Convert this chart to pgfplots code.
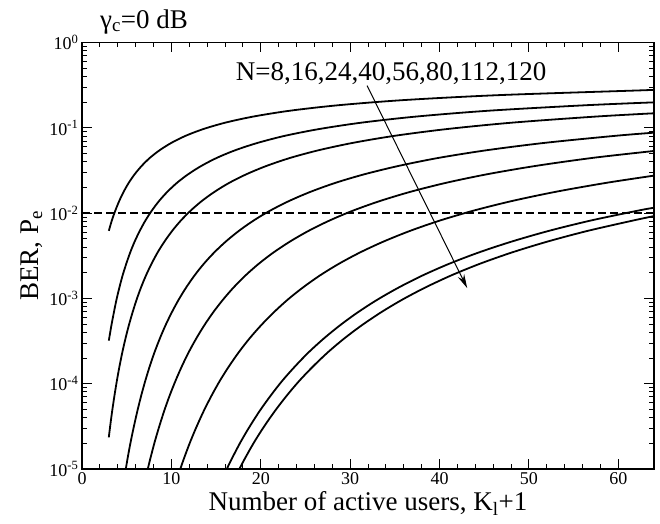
\documentclass[border=0pt]{standalone}
\usepackage{fontspec}
\setmainfont{Liberation Serif}
\usepackage{pgfplots}
\pgfplotsset{compat=1.18}
\usetikzlibrary{arrows.meta}

\begin{document}
\begin{tikzpicture}
\begin{axis}[
  name=ax,
  scale only axis,
  width=572pt, height=426.5pt,
  xmin=0, xmax=64,
  ymode=log, ymin=1e-5, ymax=1,
  clip mode=individual,
  xtick={0,10,20,30,40,50,60},
  xticklabels={0,10,20,30,40,50,60},
  minor x tick num=4,
  ytick={1e-5,1e-4,1e-3,1e-2,1e-1,1},
  yticklabels={10\textsuperscript{-5},10\textsuperscript{-4},10\textsuperscript{-3},10\textsuperscript{-2},10\textsuperscript{-1},10\textsuperscript{0}},
  minor ytick={2e-5,3e-5,4e-5,5e-5,6e-5,7e-5,8e-5,9e-5,
               2e-4,3e-4,4e-4,5e-4,6e-4,7e-4,8e-4,9e-4,
               2e-3,3e-3,4e-3,5e-3,6e-3,7e-3,8e-3,9e-3,
               2e-2,3e-2,4e-2,5e-2,6e-2,7e-2,8e-2,9e-2,
               0.2,0.3,0.4,0.5,0.6,0.7,0.8,0.9},
  tick align=inside,
  major tick length=10pt, minor tick length=5pt,
  every tick/.style={black, line width=1pt},
  axis line style={line width=1.3pt},
  tick label style={font=\fontsize{18}{20}\selectfont},
  xlabel={Number of active users, K\textsubscript{l}+1},
  ylabel={BER, P\textsubscript{e}},
  label style={font=\fontsize{27}{30}\selectfont},
  ber/.style={black, solid, mark=none, line width=1.8pt, smooth},
]
% N = 8
\addplot[ber] coordinates {(3,6.2e-3) (3.34,8.2e-3) (3.73,1.072e-2) (4.17,1.39e-2) (4.67,1.786e-2) (5.24,2.275e-2) (5.91,2.87e-2) (6.69,3.59e-2) (7.61,4.46e-2) (8.71,5.48e-2) (10.02,6.68e-2) (11.62,8.08e-2) (13.59,9.68e-2) (16.06,0.1151) (19.2,0.1357) (23.28,0.1587) (28.72,0.1841) (36.16,0.2119) (46.8,0.2420) (62.3,0.2743) (64,0.279)};
% N = 16
\addplot[ber] coordinates {(3,3.2e-4) (3.29,4.83e-4) (3.57,6.87e-4) (3.86,9.68e-4) (4.19,1.35e-3) (4.55,1.87e-3) (4.96,2.56e-3) (5.40,3.47e-3) (5.90,4.66e-3) (6.47,6.21e-3) (7.10,8.2e-3) (7.82,1.072e-2) (8.63,1.39e-2) (9.57,1.786e-2) (10.65,2.275e-2) (11.91,2.87e-2) (13.38,3.59e-2) (15.12,4.46e-2) (17.19,5.48e-2) (19.70,6.68e-2) (22.75,8.08e-2) (26.55,9.68e-2) (31.32,0.1151) (37.46,0.1357) (45.53,0.1587) (56.44,0.1841) (64,0.1988)};
% N = 24
\addplot[ber] coordinates {(3,2.35e-5) (3.15,3.17e-5) (3.38,4.81e-5) (3.63,7.23e-5) (3.90,1.08e-4) (4.19,1.59e-4) (4.51,2.33e-4) (4.86,3.37e-4) (5.24,4.83e-4) (5.66,6.87e-4) (6.11,9.68e-4) (6.61,1.35e-3) (7.17,1.87e-3) (7.79,2.56e-3) (8.47,3.47e-3) (9.24,4.66e-3) (10.10,6.21e-3) (11.07,8.2e-3) (12.17,1.072e-2) (13.42,1.39e-2) (14.86,1.786e-2) (16.51,2.275e-2) (18.44,2.87e-2) (20.69,3.59e-2) (23.36,4.46e-2) (26.54,5.48e-2) (30.37,6.68e-2) (35.06,8.08e-2) (40.87,9.68e-2) (48.19,0.1151) (57.60,0.1357) (64,0.148)};
% N = 40
\addplot[ber] coordinates {(4.79,8.54e-6) (5.10,1.33e-5) (5.44,2.07e-5) (5.81,3.17e-5) (6.20,4.81e-5) (6.62,7.23e-5) (7.08,1.08e-4) (7.57,1.59e-4) (8.11,2.33e-4) (8.70,3.37e-4) (9.34,4.83e-4) (10.05,6.87e-4) (10.82,9.68e-4) (11.67,1.35e-3) (12.61,1.87e-3) (13.65,2.56e-3) (14.81,3.47e-3) (16.11,4.66e-3) (17.57,6.21e-3) (19.21,8.2e-3) (21.07,1.072e-2) (23.19,1.39e-2) (25.62,1.786e-2) (28.42,2.275e-2) (31.68,2.87e-2) (35.50,3.59e-2) (40.00,4.46e-2) (45.39,5.48e-2) (51.88,6.68e-2) (59.81,8.08e-2) (64,8.77e-2)};
% N = 56
\addplot[ber] coordinates {(7.20,8.54e-6) (7.65,1.33e-5) (8.13,2.07e-5) (8.65,3.17e-5) (9.20,4.81e-5) (9.80,7.23e-5) (10.46,1.08e-4) (11.16,1.59e-4) (11.93,2.33e-4) (12.77,3.37e-4) (13.68,4.83e-4) (14.68,6.87e-4) (15.78,9.68e-4) (16.98,1.35e-3) (18.32,1.87e-3) (19.80,2.56e-3) (21.45,3.47e-3) (23.30,4.66e-3) (25.37,6.21e-3) (27.71,8.2e-3) (30.35,1.072e-2) (33.37,1.39e-2) (36.82,1.786e-2) (40.81,2.275e-2) (45.44,2.87e-2) (50.87,3.59e-2) (57.28,4.46e-2) (64,5.35e-2)};
% N = 80
\addplot[ber] coordinates {(10.77,8.54e-6) (11.41,1.33e-5) (12.10,2.07e-5) (12.84,3.17e-5) (13.63,4.81e-5) (14.49,7.23e-5) (15.42,1.08e-4) (16.43,1.59e-4) (17.53,2.33e-4) (18.72,3.37e-4) (20.03,4.83e-4) (21.46,6.87e-4) (23.02,9.68e-4) (24.75,1.35e-3) (26.66,1.87e-3) (28.78,2.56e-3) (31.14,3.47e-3) (33.78,4.66e-3) (36.74,6.21e-3) (40.07,8.2e-3) (43.85,1.072e-2) (48.16,1.39e-2) (53.10,1.786e-2) (58.79,2.275e-2) (64,2.75e-2)};
% N = 112
\addplot[ber] coordinates {(15.88,8.54e-6) (16.78,1.33e-5) (17.74,2.07e-5) (18.78,3.17e-5) (19.89,4.81e-5) (21.10,7.23e-5) (22.40,1.08e-4) (23.82,1.59e-4) (25.35,2.33e-4) (27.03,3.37e-4) (28.86,4.83e-4) (30.86,6.87e-4) (33.06,9.68e-4) (35.48,1.35e-3) (38.16,1.87e-3) (41.13,2.56e-3) (44.44,3.47e-3) (48.14,4.66e-3) (52.28,6.21e-3) (56.96,8.2e-3) (62.26,1.072e-2) (64,1.156e-2)};
% N = 120
\addplot[ber] coordinates {(17.26,8.54e-6) (18.23,1.33e-5) (19.27,2.07e-5) (20.39,3.17e-5) (21.60,4.81e-5) (22.90,7.23e-5) (24.31,1.08e-4) (25.84,1.59e-4) (27.50,2.33e-4) (29.31,3.37e-4) (31.29,4.83e-4) (33.46,6.87e-4) (35.84,9.68e-4) (38.46,1.35e-3) (41.36,1.87e-3) (44.57,2.56e-3) (48.15,3.47e-3) (52.15,4.66e-3) (56.63,6.21e-3) (61.69,8.2e-3) (64,9.23e-3)};
% BER threshold
\addplot[black, mark=none, line width=1.8pt, dash pattern=on 8pt off 4pt] coordinates {(0,1e-2) (64,1e-2)};

\node[anchor=base west, font=\fontsize{27}{30}\selectfont, inner sep=0pt]
  at (axis cs:17.2,0.363) {N=8,16,24,40,56,80,112,120};
\draw[-{Stealth[length=14pt,width=7pt]}, line width=1pt]
  (axis cs:31.9,0.312) -- (axis cs:43.1,1.32e-3);
\node[anchor=base west, font=\fontsize{27}{30}\selectfont, inner sep=0pt]
  at ([yshift=14.5pt]axis cs:2,1) {γ\textsubscript{c}=0 dB};
\end{axis}
\pgfresetboundingbox
\path ([xshift=-82pt,yshift=-54pt]ax.south west) rectangle ([xshift=6pt,yshift=42.5pt]ax.north east);
\end{tikzpicture}
\end{document}
